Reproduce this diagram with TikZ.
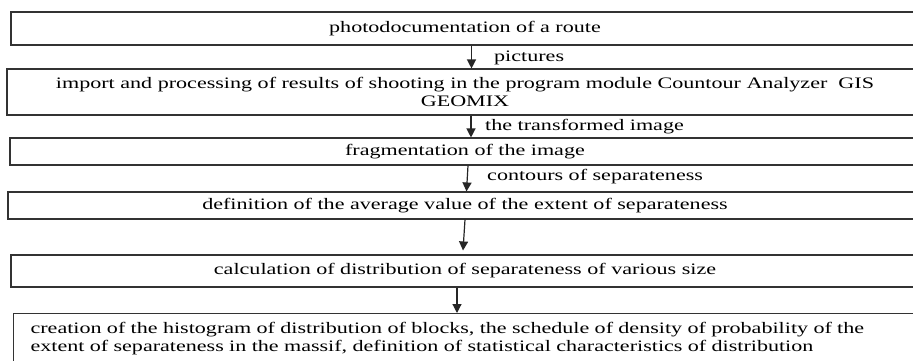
\documentclass[tikz,border=0pt]{standalone}
\usepackage{fontspec}
\setmainfont{Liberation Serif}[FakeStretch=1.38]
\usetikzlibrary{arrows.meta,calc}
\tikzset{
  box/.style={draw=black!80, line width=1.1pt, inner sep=0pt, align=center, font=\fontsize{16}{18}\selectfont},
  lbl/.style={anchor=west, inner sep=0pt, font=\fontsize{16}{18}\selectfont},
  arr/.style={line width=1.2pt, draw=black!85, -{Triangle[length=9pt,width=9pt]}}
}
\begin{document}
\begin{tikzpicture}[x=1pt,y=-1pt]
\useasboundingbox (0,0) rectangle (913,361);
\clip (0,0) rectangle (913,361);
\fill[white] (0,0) rectangle (913,361);
% boxes (centre of text at x=465)
\node[box, minimum width=908pt, minimum height=33pt] (b1) at (465,28.5) {photodocumentation of a route};
\node[box, minimum width=916pt, minimum height=46pt] (b2) at (465,92) {import and processing of results of shooting in the program module Countour Analyzer\ \ GIS\\GEOMIX};
\node[box, minimum width=910pt, minimum height=27pt] (b3) at (465,151.5) {fragmentation of the image};
\node[box, minimum width=914pt, minimum height=27pt] (b4) at (465,205.5) {definition of the average value of the extent of separateness};
\node[box, minimum width=908pt, minimum height=32pt] (b5) at (465,271) {calculation of distribution of separateness of various size};
\node[box, anchor=north west, minimum width=920pt, minimum height=64pt, text width=900pt, align=left, inner xsep=17pt, inner ysep=1pt, font=\fontsize{16}{17.5}\selectfont] (b6) at (13,313) {creation of the histogram of distribution of blocks, the schedule of density of probability of the\\extent of separateness in the massif, definition of statistical characteristics of distribution\\\mbox{}};
% arrows
\draw[arr] ($(b1.south)+(6.5,0)$) -- ($(b2.north)+(6.5,0)$);
\draw[arr] ($(b2.south)+(6,0)$) -- ($(b3.north)+(6,0)$);
\draw[arr] ($(b3.south)+(3,0)$) -- ($(b4.north)+(1.5,0)$);
\draw[arr] ($(b4.south)+(0,0)$) -- ($(b5.north)+(-2,-4)$);
\draw[arr] ($(b5.south)+(-8,0)$) -- ($(b6.north west)+(444,0)$);
% labels
\node[lbl] (l1) at (494,58) {pictures};
\node[lbl] (l2) at (485,127) {the transformed image};
\node[lbl] (l3) at (487,177) {contours of separateness};
\end{tikzpicture}
\end{document}
